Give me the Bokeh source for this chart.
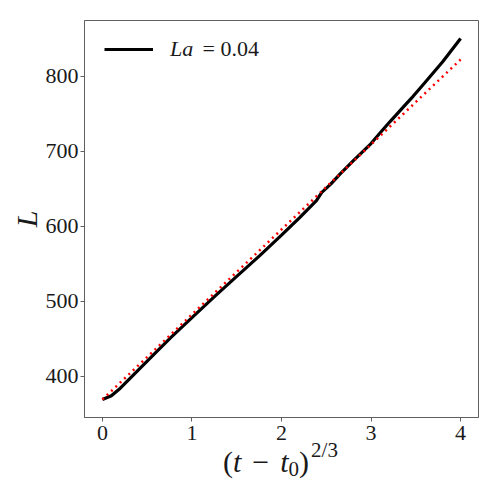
from bokeh.plotting import figure
from bokeh.models import Range1d, FixedTicker, Legend, LegendItem, Label, ColumnDataSource, Div
from bokeh.layouts import column
from bokeh.embed import file_html
from bokeh.resources import INLINE

# --- data ---
x_sim = [0.0, 0.1, 0.2, 0.3, 0.4, 0.5, 0.6, 0.76, 1.0, 1.26, 1.5, 1.76, 2.0, 2.2,
         2.39, 2.45, 2.55, 2.65, 2.8, 3.0, 3.1, 3.21, 3.4, 3.47, 3.6, 3.8, 4.0]
L_sim = [369, 374, 384, 396, 408, 420, 432, 451, 478, 507, 533, 561, 588, 611,
         634, 645, 656, 669, 687, 710, 724, 739, 764, 773, 791, 819, 850]
x_fit = [0.0, 4.0]
L_fit = [369, 822]
x_ticks = [0, 1, 2, 3, 4]
y_ticks = [400, 500, 600, 700, 800]
legend_name = "La"
legend_value = "= 0.04"

FONT = "Liberation Serif"
GRAY = "#606060"
TXT = "#1a1a1a"

p = figure(width=490, height=448, output_backend="svg", toolbar_location=None,
           x_range=Range1d(-0.2, 4.2), y_range=Range1d(345, 874),
           min_border_left=84, min_border_right=12, min_border_top=20, min_border_bottom=31)
p.xgrid.visible = False
p.ygrid.visible = False
p.outline_line_color = GRAY
p.outline_line_width = 1
p.background_fill_color = "white"
p.border_fill_color = "white"

for ax in (p.xaxis[0], p.yaxis[0]):
    ax.axis_line_color = GRAY
    ax.major_tick_line_color = GRAY
    ax.major_tick_in = 0
    ax.major_tick_out = 4
    ax.minor_tick_line_color = None
    ax.major_label_text_font = FONT
    ax.major_label_text_font_size = "22px"
    ax.major_label_text_color = TXT
p.xaxis[0].ticker = FixedTicker(ticks=x_ticks)
p.yaxis[0].ticker = FixedTicker(ticks=y_ticks)
p.xaxis[0].major_label_standoff = 4
p.yaxis[0].major_label_standoff = 2

p.yaxis[0].axis_label = "L"
p.yaxis[0].axis_label_text_font = FONT
p.yaxis[0].axis_label_text_font_style = "italic"
p.yaxis[0].axis_label_text_font_size = "30px"
p.yaxis[0].axis_label_text_color = TXT
p.yaxis[0].axis_label_standoff = 0

src_sim = ColumnDataSource(dict(x=x_sim, y=L_sim))
src_fit = ColumnDataSource(dict(x=x_fit, y=L_fit))
r_sim = p.line("x", "y", source=src_sim, line_color="black", line_width=3.2)
r_fit = p.line("x", "y", source=src_fit, line_color="#ff0000", line_width=2.5, line_dash="2 4")

legend = Legend(items=[LegendItem(label=legend_name, renderers=[r_sim])],
                location=(20, 355), orientation="vertical",
                border_line_color=None, background_fill_alpha=0,
                padding=0, margin=0, glyph_width=49, glyph_height=20,
                label_standoff=17, label_text_font=FONT, label_text_font_style="italic",
                label_text_font_size="22px", label_text_color=TXT)
p.add_layout(legend)

p.add_layout(Label(x=118, y=369, x_units="screen", y_units="screen", text=legend_value,
                   text_font=FONT, text_font_size="22px", text_color=TXT,
                   text_baseline="middle", text_align="left"))

# x axis label: (t - t0)^{2/3}, as real HTML text under the figure
xlabel_html = (
    '<span style="position:relative;top:-15px">'
    '(<i>t</i><span style="margin:0 11px">\u2212</span><i>t</i>'
    '<span style="font-size:21px;vertical-align:-4px">0</span>)'
    '<span style="font-size:21px;vertical-align:15px;margin-left:2px">2/3</span>'
    '</span>'
)
xlabel = Div(text=xlabel_html, width=490, height=42, margin=0,
             styles={"font-family": FONT, "font-size": "30px", "line-height": "30px",
                     "padding-left": "223px", "padding-top": "2px", "color": TXT,
                     "white-space": "nowrap"})

layout = column(p, xlabel, spacing=0)
open("out.html", "w").write(file_html(layout, INLINE))
